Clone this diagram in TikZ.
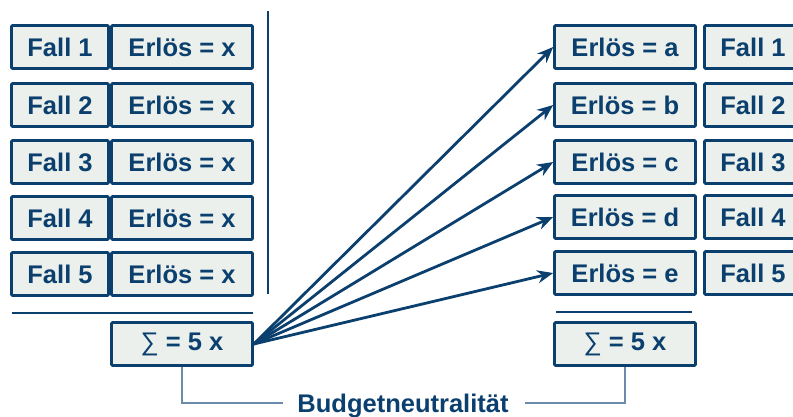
\documentclass[tikz,border=0pt]{standalone}
\usepackage{fontspec}
\setmainfont{Liberation Sans}
\usetikzlibrary{arrows.meta}
\definecolor{dblue}{HTML}{0B3F6E}
\definecolor{boxfill}{HTML}{EBF0EC}
\definecolor{lblue}{HTML}{6A8BAA}
\newcommand{\sumsym}{{\fontseries{m}\selectfont ∑}}
\begin{document}
\begin{tikzpicture}[x=1pt,y=-1pt,
  cell/.style={draw=dblue, line width=2.6pt, fill=boxfill, text=dblue,
    font=\fontsize{25.5}{30}\selectfont\bfseries, inner sep=0pt,
    minimum height=43pt, rounded corners=1pt},
  fallbox/.style={cell, minimum width=97pt},
  erlbox/.style={cell, minimum width=141pt},
  arr/.style={draw=dblue, line width=2.8pt, -{Stealth[length=16pt,width=13pt]}},
  sep/.style={draw=dblue, line width=1.4pt},
  brk/.style={draw=lblue, line width=1.4pt}]
\useasboundingbox (0,0) rectangle (793,416);
\clip (0,0) rectangle (793,416);
% left column
\node[fallbox] (lf1) at (60,47) {Fall 1};
\node[erlbox]  (le1) at (182,47) {Erlös = x};
\node[fallbox] (lf2) at (60,105) {Fall 2};
\node[erlbox]  (le2) at (182,105) {Erlös = x};
\node[fallbox] (lf3) at (60,162) {Fall 3};
\node[erlbox]  (le3) at (182,162) {Erlös = x};
\node[fallbox] (lf4) at (60,218) {Fall 4};
\node[erlbox]  (le4) at (182,218) {Erlös = x};
\node[fallbox] (lf5) at (60,274) {Fall 5};
\node[erlbox]  (le5) at (182,274) {Erlös = x};
% right column
\node[erlbox]  (re1) at (625,47) {Erlös = a};
\node[fallbox] (rf1) at (753,47) {Fall 1};
\node[erlbox]  (re2) at (625,105) {Erlös = b};
\node[fallbox] (rf2) at (753,105) {Fall 2};
\node[erlbox]  (re3) at (625,162) {Erlös = c};
\node[fallbox] (rf3) at (753,162) {Fall 3};
\node[erlbox]  (re4) at (625,217) {Erlös = d};
\node[fallbox] (rf4) at (753,217) {Fall 4};
\node[erlbox]  (re5) at (625,273) {Erlös = e};
\node[fallbox] (rf5) at (753,273) {Fall 5};
% sums
\node[erlbox] (ls) at (182,344) {\sumsym{} = 5 x};
\node[erlbox] (rs) at (625,344) {\sumsym{} = 5 x};
% separators
\coordinate (vt) at (268,11);
\coordinate (vb) at (268,294);
\draw[sep] (vt) -- (vb);
\coordinate (hl1) at (12,313);
\coordinate (hl2) at (253,313);
\draw[sep] (hl1) -- (hl2);
\coordinate (hr1) at (556,312);
\coordinate (hr2) at (692,312);
\draw[sep] (hr1) -- (hr2);
% arrows
\foreach \i in {1,...,5} {\draw[arr] (ls.east) -- (re\i.west);}
% label and bracket
\node[text=dblue, font=\fontsize{25.5}{30}\selectfont\bfseries, anchor=base] (bn) at (403,412) {Budgetneutralität};
\coordinate (bl) at (182,403);
\coordinate (br) at (625,403);
\draw[brk] (ls.south -| bl) -- (bl) -- ([xshift=-11pt]bn.west |- bl);
\draw[brk] (rs.south -| br) -- (br) -- ([xshift=13pt]bn.east |- br);
\end{tikzpicture}
\end{document}
